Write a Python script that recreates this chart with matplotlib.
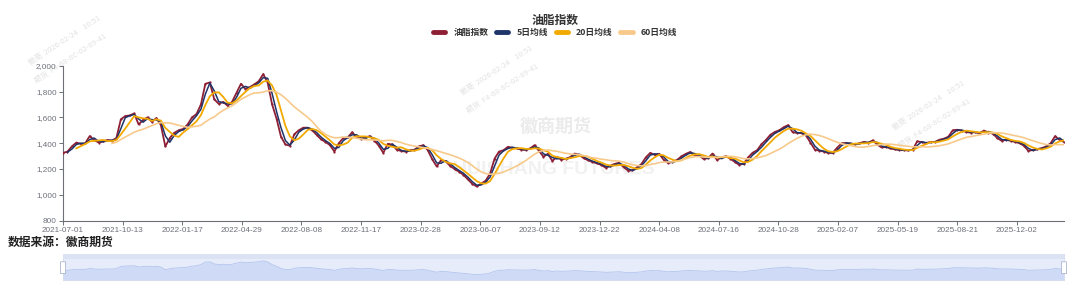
import numpy as np
import pandas as pd
import matplotlib
matplotlib.use("Agg")
import matplotlib.pyplot as plt
from matplotlib.lines import Line2D
from matplotlib.patches import Rectangle, FancyBboxPatch
from matplotlib.ticker import FuncFormatter

plt.rcParams['font.family'] = ['Noto Sans CJK SC', 'DejaVu Sans']

# 数据（每5个交易日读一次数）
title = "油脂指数"
series_names = ["油脂指数", "5日均线", "20日均线", "60日均线"]
step = 5
index_vals = [
    1325, 1335, 1375, 1405, 1395, 1400, 1455, 1425, 1405, 1415,
    1425, 1420, 1440, 1585, 1610, 1615, 1630, 1545, 1580, 1600,
    1565, 1595, 1540, 1375, 1440, 1480, 1500, 1510, 1545, 1600,
    1625, 1700, 1860, 1870, 1740, 1705, 1720, 1690, 1720, 1790,
    1860, 1820, 1835, 1855, 1880, 1935, 1870, 1700, 1590, 1450,
    1390, 1380, 1470, 1500, 1520, 1520, 1500, 1465, 1430, 1410,
    1385, 1335, 1400, 1440, 1445, 1485, 1445, 1435, 1445, 1455,
    1420, 1380, 1325, 1395, 1390, 1350, 1340, 1335, 1345, 1350,
    1375, 1385, 1345, 1275, 1220, 1270, 1260, 1225, 1200, 1180,
    1155, 1120, 1085, 1065, 1088, 1110, 1165, 1280, 1335, 1345,
    1372, 1365, 1360, 1350, 1348, 1360, 1385, 1340, 1295, 1318,
    1262, 1295, 1272, 1280, 1292, 1320, 1310, 1285, 1268, 1255,
    1244, 1232, 1210, 1225, 1240, 1248, 1215, 1188, 1190, 1213,
    1238, 1290, 1325, 1310, 1318, 1272, 1246, 1256, 1270, 1298,
    1318, 1332, 1308, 1305, 1278, 1285, 1320, 1270, 1290, 1300,
    1280, 1255, 1232, 1242, 1290, 1326, 1345, 1392, 1425, 1465,
    1487, 1500, 1524, 1540, 1485, 1480, 1478, 1460, 1405, 1350,
    1342, 1335, 1325, 1325, 1365, 1398, 1403, 1397, 1390, 1400,
    1410, 1403, 1422, 1390, 1367, 1372, 1359, 1352, 1347, 1346,
    1344, 1350, 1415, 1408, 1400, 1410, 1410, 1427, 1435, 1450,
    1500, 1504, 1498, 1487, 1482, 1486, 1476, 1498, 1482, 1474,
    1440, 1418, 1428, 1418, 1410, 1400, 1380, 1340, 1348, 1355,
    1362, 1375, 1400, 1455, 1425, 1410,
]
ma_days = [5, 20, 60]
tick_every = 67
tick_labels = [
    "2021-07-01", "2021-10-13", "2022-01-17", "2022-04-29", "2022-08-08",
    "2022-11-17", "2023-02-28", "2023-06-07", "2023-09-12", "2023-12-22",
    "2024-04-08", "2024-07-16", "2024-10-28", "2025-02-07", "2025-05-19",
    "2025-08-21", "2025-12-02",
]
source_text = "数据来源：徽商期货"

colors = ["#8E1F35", "#1F3468", "#F2A900", "#F7CA8C"]
axis_color = "#6E7079"

s = pd.Series(index_vals, dtype=float)
x = np.arange(len(s)) * step
mas = [s.rolling(max(2, d // step)).mean() for d in ma_days]

W, H = 1080, 287
fig = plt.figure(figsize=(W / 100, H / 100), dpi=100)
ax = fig.add_axes([63 / W, 1 - 220.7 / H, 1001 / W, 155 / H])

# 主图
ax.plot(x, s, color=colors[0], lw=1.3, marker="o", ms=1.6, mew=0,
        zorder=3)
ax.plot(x, mas[0], color=colors[1], lw=1.1, zorder=4)
ax.plot(x, mas[1], color=colors[2], lw=1.3, zorder=5)
ax.plot(x, mas[2], color=colors[3], lw=1.2, zorder=5)

ax.set_xlim(0, x[-1])
ax.set_ylim(800, 2000)
ax.set_yticks(np.arange(800, 2001, 200))
ax.yaxis.set_major_formatter(FuncFormatter(lambda v, p: f"{int(v):,}"))
ax.set_xticks([k * tick_every for k in range(len(tick_labels))])
ax.set_xticklabels(tick_labels)
for sp in ["top", "right"]:
    ax.spines[sp].set_visible(False)
for sp in ["left", "bottom"]:
    ax.spines[sp].set_color(axis_color)
    ax.spines[sp].set_linewidth(0.8)
ax.tick_params(length=3, width=0.7, color=axis_color, labelcolor=axis_color,
               labelsize=5.9, pad=1.5)
for lab in ax.get_xticklabels() + ax.get_yticklabels():
    lab.set_family("Liberation Sans")

# 水印
ax.text(556 / W, 1 - 126 / H, "徽商期货", transform=fig.transFigure,
        fontsize=13, fontweight="bold", color="#EBEBEB", ha="center",
        va="center", zorder=0, clip_on=False)
ax.text(554 / W, 1 - 169 / H, "HUISHANG FUTURES", transform=fig.transFigure,
        fontsize=14, fontweight="bold", color="#F1F1F1", ha="center",
        va="center", zorder=0, clip_on=False, family="Liberation Sans")
for cx, cy in [(65, 40), (497, 70), (929, 105)]:
    ax.text(cx / W, 1 - cy / H, "徽商  2026-02-24    10:51",
            transform=fig.transFigure, fontsize=5.5, color="#E2E2E2",
            rotation=33, ha="center", va="center", zorder=0, clip_on=False)
    ax.text((cx + 6) / W, 1 - (cy + 19) / H, "期货  F4-68-8C-02-89-41",
            transform=fig.transFigure, fontsize=5.5, color="#E2E2E2",
            rotation=33, ha="center", va="center", zorder=0, clip_on=False)

# 标题和图例
fig.text(555 / W, 1 - 20.7 / H, title, ha="center", va="center",
         fontsize=8.5, fontweight="bold", color="#333333")
handles = [Line2D([0], [0], color=c, lw=3.5, solid_capstyle="round")
           for c in colors]
leg = fig.legend(handles, series_names, loc="center", ncol=4,
                 bbox_to_anchor=(555 / W, 1 - 32.7 / H), frameon=False,
                 fontsize=6.3, handlelength=1.4, handletextpad=0.9,
                 columnspacing=0.9, borderpad=0)
for t in leg.get_texts():
    t.set_fontweight("bold")
    t.set_color("#333333")

fig.text(7.6 / W, 1 - 242 / H, source_text, ha="left", va="center",
         fontsize=8.5, fontweight="bold", color="#222222")

# 底部缩放条
ax2 = fig.add_axes([63 / W, 1 - 280 / H, 1001 / W, 26 / H])
ax2.set_facecolor("#E6ECFA")
ax2.set_xlim(0, x[-1])
ax2.set_ylim(725, 2370)
ax2.fill_between(x, 725, s, color="#CFDBF6", lw=0)
ax2.plot(x, s, color="#B3C5EE", lw=0.6)
ax2.add_patch(Rectangle((0, 0.8), 1, 0.2, transform=ax2.transAxes,
                        color="#DAE2F4", lw=0, zorder=3))
for hx in [0, 1]:
    ax2.add_patch(FancyBboxPatch((hx - 0.0015, 0.25), 0.003, 0.45,
                                 boxstyle="round,pad=0.001",
                                 transform=ax2.transAxes, fc="white",
                                 ec="#ACB8D1", lw=0.6, zorder=4,
                                 clip_on=False))
ax2.set_xticks([])
ax2.set_yticks([])
for sp in ax2.spines.values():
    sp.set_color("#D2DBEE")
    sp.set_linewidth(0.6)

fig.savefig("out.png", dpi=100)
